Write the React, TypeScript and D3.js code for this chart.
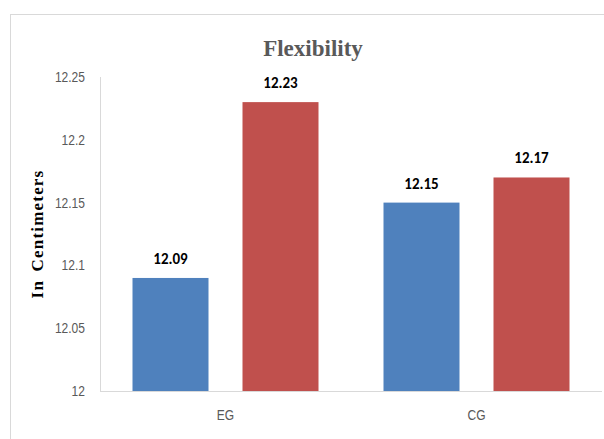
import React from "react";
import * as d3 from "d3";

const categories = ["EG", "CG"];
const seriesA = [12.09, 12.15];
const seriesB = [12.23, 12.17];
const yTicks = [12, 12.05, 12.1, 12.15, 12.2, 12.25];
const title = "Flexibility";
const yTitle = "In Centimeters";

const colors = ["#4F81BD", "#C0504D"];

export default function App() {
  const W = 604;
  const H = 439;
  const plot = { left: 100, right: 602, top: 77, bottom: 391 };

  const x = d3.scaleBand<string>().domain(categories).range([plot.left, plot.right]);
  const y = d3.scaleLinear().domain([12, 12.25]).range([plot.bottom, plot.top]);

  const barW = 76;
  const gap = 34;

  const series = [seriesA, seriesB];
  const fmtTick = (v: number) => String(+v.toFixed(2));
  const tickFont = "'Liberation Sans', Arial, sans-serif";
  const labelFont = "Carlito, 'Open Sans', 'Liberation Sans', sans-serif";
  const narrow = 0.86;

  return (
    <div style={{ position: "absolute", left: 0, top: 0 }}>
      <svg width={W} height={H} style={{ display: "block", background: "#fff" }}>
        <rect x={10.5} y={14.5} width={W} height={H} fill="#fff" stroke="#d9d9d9" strokeWidth={1} />
        <text
          x={313}
          y={56}
          textAnchor="middle"
          fontFamily="'Liberation Serif', 'Times New Roman', serif"
          fontWeight="bold"
          fontSize={23}
          fill="#595959"
        >
          {title}
        </text>
        <text
          transform={`translate(43, ${234}) rotate(-90)`}
          textAnchor="middle"
          fontFamily="'Liberation Serif', 'Times New Roman', serif"
          fontWeight="bold"
          fontSize={17}
          letterSpacing={1.2}
          wordSpacing={3}
          fill="#000"
        >
          {yTitle}
        </text>
        {yTicks.map((t) => (
          <text
            key={t}
            transform={`translate(85, ${y(t) + 5}) scale(${narrow}, 1)`}
            textAnchor="end"
            fontFamily={tickFont}
            fontSize={14}
            fill="#595959"
          >
            {fmtTick(t)}
          </text>
        ))}
        {categories.map((c, ci) => {
          const groupX = (x(c) as number) + (x.bandwidth() - (barW * 2 + gap)) / 2;
          return (
            <g key={c}>
              {series.map((s, si) => {
                const bx = groupX + si * (barW + gap);
                const v = s[ci];
                return (
                  <g key={si}>
                    <rect x={bx} y={y(v)} width={barW} height={plot.bottom - y(v)} fill={colors[si]} />
                    <text
                      x={bx + barW / 2}
                      y={y(v) - 14}
                      textAnchor="middle"
                      fontFamily={labelFont}
                      fontWeight="bold"
                      fontSize={15}
                      fill="#000"
                    >
                      {v.toFixed(2)}
                    </text>
                  </g>
                );
              })}
              <text
                transform={`translate(${(x(c) as number) + x.bandwidth() / 2}, 420) scale(${narrow}, 1)`}
                textAnchor="middle"
                fontFamily={tickFont}
                fontSize={14}
                fill="#595959"
              >
                {c}
              </text>
            </g>
          );
        })}
        <line x1={plot.left + 0.5} x2={plot.left + 0.5} y1={plot.top} y2={plot.bottom} stroke="#d9d9d9" />
        <line x1={plot.left} x2={plot.right} y1={plot.bottom + 0.5} y2={plot.bottom + 0.5} stroke="#d9d9d9" />
      </svg>
    </div>
  );
}
